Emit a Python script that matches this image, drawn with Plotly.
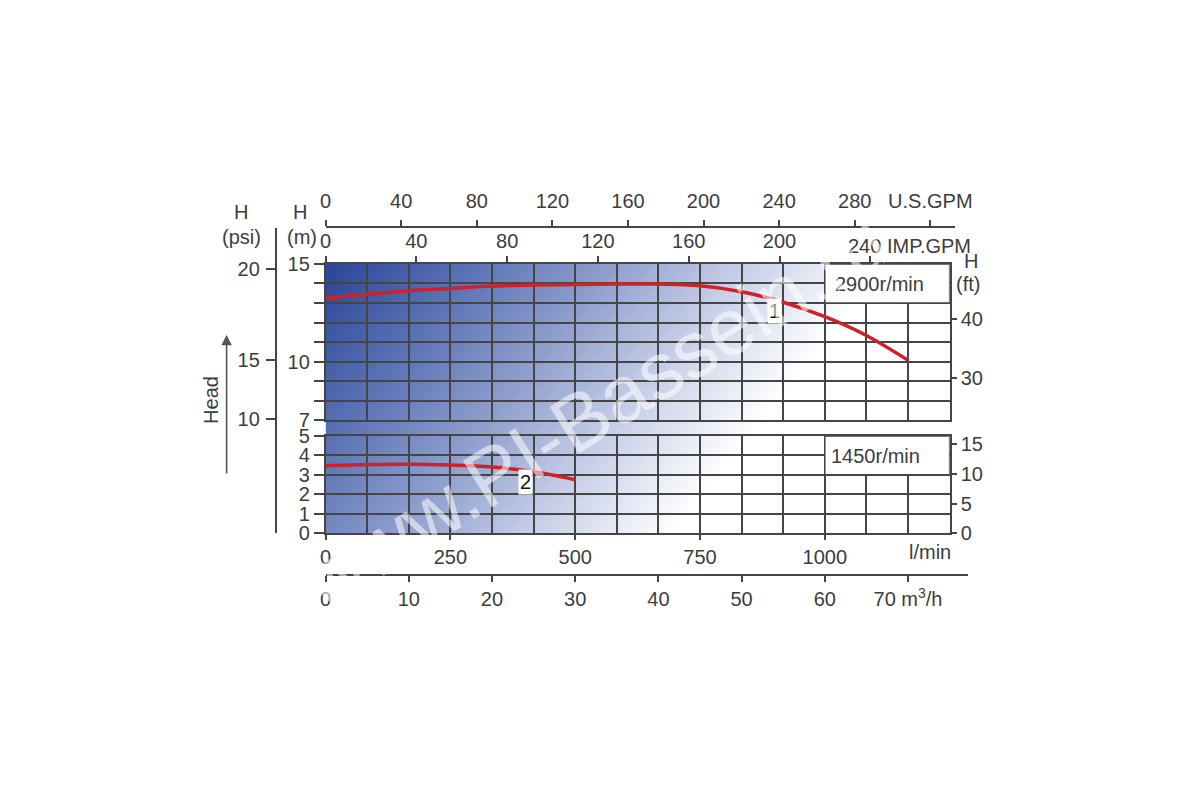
import base64
import plotly.graph_objects as go

# ---------------- data ----------------
flow_lpm_1 = [0, 83.3, 166.7, 250, 333.3, 416.7, 500, 583.3, 666.7, 750, 833.3, 916.7, 1000, 1083.3, 1166.7]
head_m_1 = [13.25, 13.45, 13.63, 13.75, 13.87, 13.92, 13.95, 13.97, 13.97, 13.88, 13.58, 13.04, 12.3, 11.34, 10.08]
flow_lpm_2 = [0, 83.3, 166.7, 250, 333.3, 416.7, 500]
head_m_2 = [3.47, 3.53, 3.55, 3.5, 3.4, 3.17, 2.75]

lpm_ticks = [0, 250, 500, 750, 1000]
m3h_ticks = [0, 10, 20, 30, 40, 50, 60, 70]
m3h_labels = ["0", "10", "20", "30", "40", "50", "60", "70 m<sup>3</sup>/h"]
usgpm_ticks = [0, 40, 80, 120, 160, 200, 240, 280, 320]
usgpm_labels = ["0", "40", "80", "120", "160", "200", "240", "280", "U.S.GPM"]
impgpm_ticks = [0, 40, 80, 120, 160, 200, 240]
impgpm_labels = ["0", "40", "80", "120", "160", "200", ""]
impgpm_last_label = "240 IMP.GPM"
head_top_rows = [7, 8, 9, 10, 11, 12, 13, 14, 15]
head_top_labels = ["7", "", "", "10", "", "", "", "", "15"]
head_bot_ticks = [0, 1, 2, 3, 4, 5]
ft_top_ticks = [30, 40]
ft_bot_ticks = [0, 5, 10, 15]
psi_ticks = [20, 15, 10]
psi_tick_pos_m = [14.75, 10.05, 7.0]

# ---------------- geometry / style ----------------
# the page body keeps an 8px margin, so the figure is sized to fit the window
OFF = 8
W, H = 1200 - 2 * OFF, 800 - 2 * OFF
def fx(px): return (px - OFF) / W
def fy(py): return 1 - (py - OFF) / H

L, R = 326, 963
TOP_T, TOP_B = 260, 421
BOT_T, BOT_B = 437, 537
LPM_MAX = 1250.0
px_per_lpm = (R - L) / LPM_MAX
US_GAL, IMP_GAL = 3.78541, 4.54609
M_TO_FT = 3.28084
grid_cols = [i * LPM_MAX / 15 for i in range(16)]

GRID = "#454545"
TXT = "#3d3d3d"
FAM = "Arial, 'Liberation Sans', sans-serif"
FONT = dict(family=FAM, size=20, color=TXT)
RED = "#cc2228"

# gradient background as svg image
gw, gh = R - L, BOT_B - TOP_T
svg = f'''<svg xmlns="http://www.w3.org/2000/svg" width="{gw}" height="{gh}" viewBox="0 0 {gw} {gh}" preserveAspectRatio="none">
<defs><linearGradient id="g" gradientUnits="userSpaceOnUse" x1="0" y1="0" x2="352" y2="279">
<stop offset="0" stop-color="#2a4597"/>
<stop offset="0.25" stop-color="#5870b4"/>
<stop offset="0.5" stop-color="#8c9ccc"/>
<stop offset="0.75" stop-color="#c7cfe8"/>
<stop offset="1" stop-color="#ffffff"/>
</linearGradient></defs>
<rect x="0" y="0" width="{gw}" height="{gh}" fill="url(#g)"/>
</svg>'''
uri = "data:image/svg+xml;base64," + base64.b64encode(svg.encode()).decode()

fig = go.Figure()

# curves
fig.add_trace(go.Scatter(x=flow_lpm_1, y=head_m_1, xaxis="x2", yaxis="y", mode="lines",
                         line=dict(color=RED, width=3.5, shape="spline", smoothing=0.8),
                         showlegend=False, hoverinfo="skip"))
fig.add_trace(go.Scatter(x=flow_lpm_2, y=head_m_2, xaxis="x", yaxis="y2", mode="lines",
                         line=dict(color=RED, width=3.5, shape="spline", smoothing=0.8),
                         showlegend=False, hoverinfo="skip"))
# dummy traces to create auxiliary axes
for xa, ya in [("x2", "y3"), ("x", "y4"), ("x3", "y5"), ("x4", "y6"), ("x5", "y6")]:
    fig.add_trace(go.Scatter(x=[None], y=[None], xaxis=xa, yaxis=ya, mode="markers",
                             showlegend=False, hoverinfo="skip"))

axis_common = dict(showline=True, linecolor=GRID, linewidth=1.5, tickcolor=GRID, tickwidth=1.5,
                   tickfont=FONT, zeroline=False, fixedrange=True)

fig.update_layout(
    width=W, height=H,
    margin=dict(l=0, r=0, t=0, b=0),
    paper_bgcolor="white", plot_bgcolor="rgba(0,0,0,0)",
    font=FONT,
    showlegend=False,
    xaxis=dict(domain=[fx(L), fx(R)], range=[0, LPM_MAX], anchor="y2", side="bottom",
               tickmode="array", tickvals=lpm_ticks, ticks="outside", ticklen=5,
               showgrid=True, gridcolor=GRID, gridwidth=1.5, mirror=True,
               minor=dict(tickmode="array", tickvals=grid_cols, showgrid=True, gridcolor=GRID,
                          gridwidth=1.5, ticks=""),
               **axis_common),
    xaxis2=dict(domain=[fx(L), fx(R)], range=[0, LPM_MAX], anchor="y", side="top",
                tickmode="array", tickvals=[v * IMP_GAL for v in impgpm_ticks],
                ticktext=impgpm_labels, ticks="outside", ticklen=6,
                showgrid=False, mirror=True,
                minor=dict(tickmode="array", tickvals=grid_cols, showgrid=True, gridcolor=GRID,
                           gridwidth=1.5, ticks=""),
                **axis_common),
    xaxis3=dict(domain=[fx(L), fx(R)], range=[0, 1], anchor="y5", visible=False, fixedrange=True),
    xaxis4=dict(domain=[fx(L), fx(968)], range=[0, (968 - L) / px_per_lpm / US_GAL],
                anchor="free", position=fy(221.5), side="top",
                tickmode="array", tickvals=usgpm_ticks, ticktext=usgpm_labels,
                ticks="outside", ticklen=6, ticklabelstandoff=4, showgrid=False, **axis_common),
    xaxis5=dict(domain=[fx(L), fx(982)], range=[0, (982 - L) / px_per_lpm / (1000 / 60)],
                anchor="free", position=fy(580.5), side="bottom",
                tickmode="array", tickvals=m3h_ticks, ticktext=m3h_labels,
                ticks="outside", ticklen=6, showgrid=False, **axis_common),
    yaxis=dict(domain=[fy(TOP_B), fy(TOP_T)], range=[7, 15], anchor="x2", side="left",
               tickmode="array", tickvals=head_top_rows, ticktext=head_top_labels,
               ticks="outside", ticklen=10, showgrid=True, gridcolor=GRID, gridwidth=1.5,
               mirror=True, **axis_common),
    yaxis2=dict(domain=[fy(BOT_B), fy(BOT_T)], range=[0, 5], anchor="x", side="left",
                tickmode="array", tickvals=head_bot_ticks, ticks="outside", ticklen=10,
                showgrid=True, gridcolor=GRID, gridwidth=1.5, mirror=True, **axis_common),
    yaxis3=dict(overlaying="y", anchor="x2", side="right", range=[7 * M_TO_FT, 15 * M_TO_FT],
                tickmode="array", tickvals=ft_top_ticks, ticks="outside", ticklen=6,
                showgrid=False, showline=False, tickcolor=GRID, tickwidth=1.5, tickfont=FONT,
                zeroline=False, fixedrange=True),
    yaxis4=dict(overlaying="y2", anchor="x", side="right", range=[0, 5 * M_TO_FT],
                tickmode="array", tickvals=ft_bot_ticks, ticks="outside", ticklen=6,
                showgrid=False, showline=False, tickcolor=GRID, tickwidth=1.5, tickfont=FONT,
                zeroline=False, fixedrange=True),
    yaxis5=dict(domain=[fy(537), fy(223)], range=[15 - (537 - TOP_T) / 20, 15 + (TOP_T - 223) / 20],
                anchor="free", position=fx(275), side="left",
                tickmode="array", tickvals=psi_tick_pos_m, ticktext=[str(v) for v in psi_ticks],
                ticks="outside", ticklen=9, ticklabelstandoff=2, showgrid=False, **axis_common),
    yaxis6=dict(domain=[0.9, 0.95], range=[0, 1], visible=False, fixedrange=True),
)

fig.add_layout_image(dict(source=uri, xref="paper", yref="paper", x=fx(L), y=fy(TOP_T),
                          sizex=(R - L) / W, sizey=(BOT_B - TOP_T) / H, sizing="stretch",
                          xanchor="left", yanchor="top", layer="below"))

# label boxes
fig.add_shape(type="rect", xref="x2", yref="y", x0=1000, x1=1250, y0=13, y1=15,
              fillcolor="white", line=dict(color=GRID, width=1.5), layer="above")
fig.add_shape(type="rect", xref="x", yref="y2", x0=1000, x1=1250, y0=3, y1=5,
              fillcolor="white", line=dict(color=GRID, width=1.5), layer="above")

C = dict(xanchor="center", yanchor="middle", showarrow=False)
ann = []
ann.append(dict(text="2900r/min", xref="x2", yref="y", x=1110, y=13.95, font=FONT, **C))
ann.append(dict(text="1450r/min", xref="x", yref="y2", x=1101, y=3.95, font=FONT, **C))
ann.append(dict(text="1", xref="x2", yref="y", x=899, y=12.6, bgcolor="white",
                font=dict(family=FAM, size=20, color="#111"), borderpad=1, **C))
ann.append(dict(text="2", xref="x", yref="y2", x=401, y=2.62, bgcolor="white",
                font=dict(family=FAM, size=20, color="#111"), borderpad=1, **C))
for t, px, py in [("H", 240, 207), ("(psi)", 240, 232), ("H", 300, 207), ("(m)", 302, 232),
                  ("H", 985, 257), ("(ft)", 982, 281), ("l/min", 943, 556)]:
    ann.append(dict(text=t, xref="paper", yref="paper", x=fx(px), y=fy(py), font=FONT, **C))
ann.append(dict(text=impgpm_last_label, xref="paper", yref="paper", x=fx(857), y=fy(241.5),
                xanchor="left", yanchor="middle", showarrow=False, font=FONT))
ann.append(dict(text="Head", xref="paper", yref="paper", x=fx(209), y=fy(400), textangle=-90,
                font=FONT, **C))
ann.append(dict(text="", xref="paper", yref="paper", x=fx(225), y=fy(333), ax=0, ay=140,
                showarrow=True, arrowhead=2, arrowsize=1.3, arrowwidth=1.6, arrowcolor="#555",
                standoff=0, startstandoff=0))
# watermark
ann.append(dict(text="www.PI-Bassein.ru", xref="paper", yref="paper", x=fx(600), y=fy(412),
                textangle=-32, xanchor="center", yanchor="middle", showarrow=False,
                font=dict(family=FAM, size=80, color="rgba(255,255,255,0.55)")))
fig.update_layout(annotations=ann)

fig.write_html("out.html")
